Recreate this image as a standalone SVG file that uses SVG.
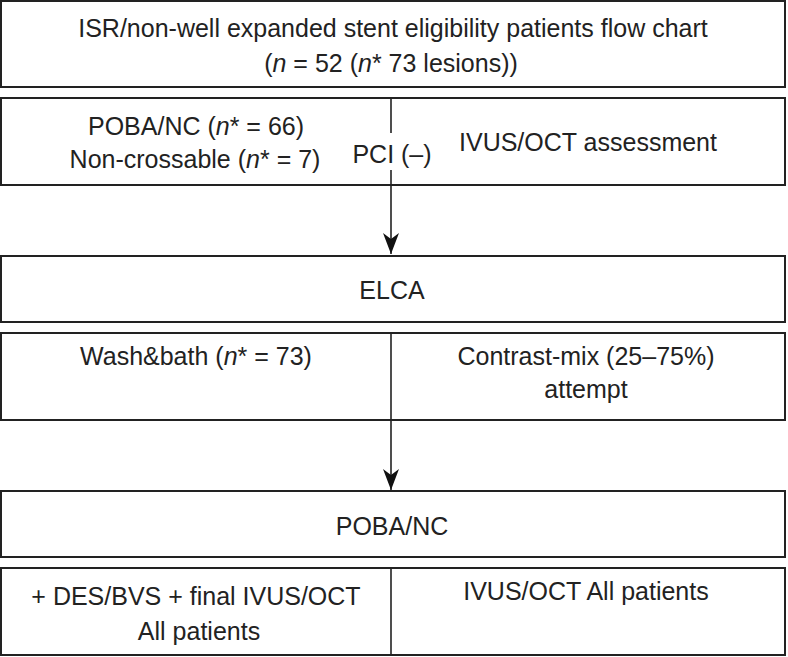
<svg xmlns="http://www.w3.org/2000/svg" width="788" height="657" viewBox="0 0 788 657">
<style>
.box{fill:#fff;stroke:#222;stroke-width:2}
.ln{fill:none;stroke:#222;stroke-width:1.6}
text{font-family:"Liberation Sans",Arial,sans-serif;font-size:25px;fill:#222;text-anchor:middle}
.i{font-style:italic}
</style>
<defs>
<marker id="ah" markerUnits="userSpaceOnUse" markerWidth="22" markerHeight="16" refX="21" refY="8" orient="auto" viewBox="0 0 22 16">
<path d="M0,0 L21,8 L0,16 L6,8 Z" fill="#111"/>
</marker>
</defs>
<rect width="788" height="657" fill="#fff"/>
<g id="n1"><rect class="box" x="1" y="1" width="784" height="86"/>
<text x="393" y="37">ISR/non-well expanded stent eligibility patients flow chart</text>
<text x="391" y="72">(<tspan class="i">n</tspan> = 52 (<tspan class="i">n</tspan>* 73 lesions))</text></g>
<g id="n2"><rect class="box" x="1" y="98" width="784" height="87"/>
<text x="196" y="135">POBA/NC (<tspan class="i">n</tspan>* = 66)</text>
<text x="195" y="168">Non-crossable (<tspan class="i">n</tspan>* = 7)</text>
<text x="392" y="163">PCI (–)</text>
<text x="588" y="151">IVUS/OCT assessment</text></g>
<g id="n3"><rect class="box" x="1" y="256" width="784" height="66"/>
<text x="392" y="299">ELCA</text></g>
<g id="n4"><rect class="box" x="1" y="333" width="784" height="87"/>
<text x="196" y="365">Wash&amp;bath (<tspan class="i">n</tspan>* = 73)</text>
<text x="586" y="365">Contrast-mix (25–75%)</text>
<text x="586" y="398">attempt</text></g>
<g id="n5"><rect class="box" x="1" y="491" width="784" height="66"/>
<text x="392" y="535">POBA/NC</text></g>
<g id="n6"><rect class="box" x="1" y="568" width="784" height="87"/>
<text x="196" y="605">+ DES/BVS + final IVUS/OCT</text>
<text x="199" y="640">All patients</text>
<text x="586" y="600">IVUS/OCT All patients</text></g>
<g id="connectors">
<line class="ln" x1="391" y1="98" x2="391" y2="133"/>
<line class="ln" x1="391" y1="170" x2="391" y2="254" marker-end="url(#ah)"/>
<line class="ln" x1="391" y1="333" x2="391" y2="490" marker-end="url(#ah)"/>
<line class="ln" x1="391" y1="568" x2="391" y2="655"/>
</g>
</svg>
